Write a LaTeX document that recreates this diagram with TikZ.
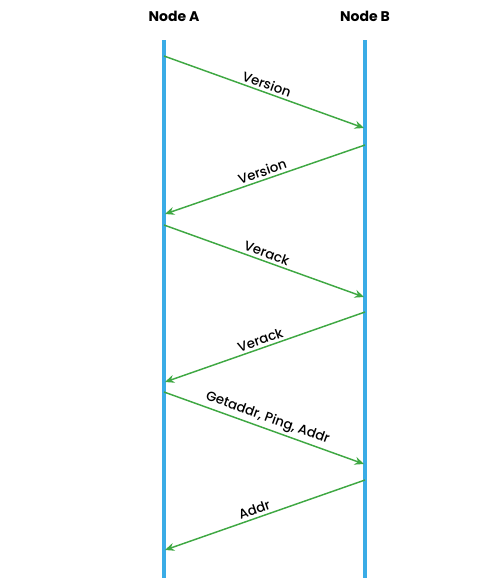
\documentclass[tikz,border=0pt]{standalone}
\usepackage{fontspec}
\setmainfont{Poppins}
\newfontfamily\medfont{Poppins Medium}
\usetikzlibrary{arrows.meta}
\definecolor{LifeBlue}{HTML}{3AACE6}
\definecolor{MsgGreen}{HTML}{3FA843}
\tikzset{
  lifeline/.style={LifeBlue, line width=2.4pt},
  msg/.style={MsgGreen, line width=1.1pt, -{Stealth[length=7pt,width=6pt]}},
  msglabel/.style={sloped, above, font=\medfont\fontsize{10}{11}\selectfont, inner sep=2pt, black},
  header/.style={font=\bfseries\fontsize{10.5}{12}\selectfont}
}

\begin{document}
\begin{tikzpicture}[x=0.75pt,y=-0.75pt]
        \useasboundingbox (0,0) rectangle (500,586);

        \node[header] (nodeA) at (174,16) {Node A};
        \node[header] (nodeB) at (365,16) {Node B};

        \coordinate (Atop) at (164,40);
        \coordinate (Abot) at (164,578);
        \coordinate (Btop) at (365,40);
        \coordinate (Bbot) at (365,578);
        \draw[lifeline] (Atop) -- (Abot);
        \draw[lifeline] (Btop) -- (Bbot);

        \coordinate (A1) at (164,56);
        \coordinate (B1) at (364,128);
        \coordinate (B2) at (365,145);
        \coordinate (A2) at (165,214);
        \coordinate (A3) at (164,225);
        \coordinate (B3) at (364,297);
        \coordinate (B4) at (365,312);
        \coordinate (A4) at (165,382);
        \coordinate (A5) at (164,392);
        \coordinate (B5) at (364,464);
        \coordinate (B6) at (365,480);
        \coordinate (A6) at (165,550);

        \draw[msg] (A1) -- node[msglabel] {Version} (B1);
        \draw[msg] (B2) -- node[msglabel] {Version} (A2);
        \draw[msg] (A3) -- node[msglabel] {Verack} (B3);
        \draw[msg] (B4) -- node[msglabel,pos=0.51] {Verack} (A4);
        \draw[msg] (A5) -- node[msglabel] {Getaddr, Ping, Addr} (B5);
        \draw[msg] (B6) -- node[msglabel,pos=0.54] {Addr} (A6);

    \end{tikzpicture}
\end{document}
